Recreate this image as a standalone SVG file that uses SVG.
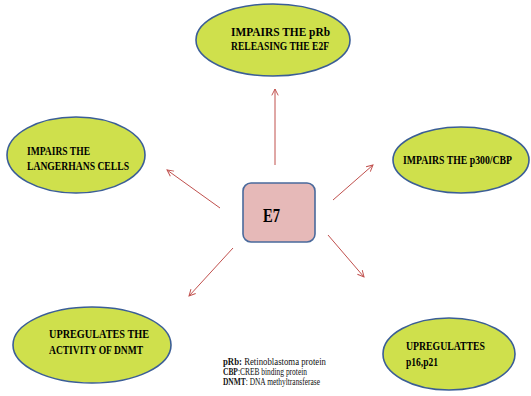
<svg xmlns="http://www.w3.org/2000/svg" width="531" height="396" viewBox="0 0 531 396">
<defs>
<style>
.ell{fill:#cfe04c;stroke:#3b5e96;stroke-width:1.6}
.lbl{font-family:"Liberation Serif","Times New Roman",serif;font-weight:700;font-size:12.5px;fill:#000}
.leg{font-family:"Liberation Serif","Times New Roman",serif;font-size:10px;fill:#111}
.arr{stroke:#c0504d;stroke-width:1;fill:none;marker-end:url(#ah)}
</style>
<marker id="ah" viewBox="0 0 10 10" refX="9" refY="5" markerWidth="8" markerHeight="8" orient="auto" markerUnits="userSpaceOnUse">
<path d="M1,1 L9,5 L1,9" fill="none" stroke="#c0504d" stroke-width="1.2"/>
</marker>
</defs>
<rect width="531" height="396" fill="#fff"/>
<g id="connectors">
<line class="arr" x1="275" y1="165" x2="275" y2="89"/>
<line class="arr" x1="220" y1="208" x2="167" y2="170"/>
<line class="arr" x1="333" y1="200" x2="373" y2="165"/>
<line class="arr" x1="233" y1="248" x2="189" y2="296"/>
<line class="arr" x1="328" y1="235" x2="364" y2="277"/>
</g>
<g id="e7">
<rect x="243" y="183" width="72" height="59" rx="8" fill="#e6b9b8" stroke="#4a6a9c" stroke-width="1.6"/>
<text x="263" y="222" font-family="Liberation Serif, serif" font-weight="700" font-size="19" fill="#000" textLength="17" lengthAdjust="spacingAndGlyphs">E7</text>
</g>
<g id="node-prb">
<ellipse class="ell" cx="273" cy="40" rx="77" ry="36"/>
<text class="lbl" x="231" y="36" textLength="99" lengthAdjust="spacingAndGlyphs">IMPAIRS THE pRb</text>
<text class="lbl" x="231" y="50" textLength="98" lengthAdjust="spacingAndGlyphs">RELEASING THE E2F</text>
</g>
<g id="node-langerhans">
<ellipse class="ell" cx="76" cy="155" rx="69" ry="38"/>
<text class="lbl" x="27" y="155" textLength="63" lengthAdjust="spacingAndGlyphs">IMPAIRS THE</text>
<text class="lbl" x="27" y="170" textLength="102" lengthAdjust="spacingAndGlyphs">LANGERHANS CELLS</text>
</g>
<g id="node-p300">
<ellipse class="ell" cx="461" cy="160" rx="68" ry="33"/>
<text class="lbl" x="403" y="164" textLength="109" lengthAdjust="spacingAndGlyphs">IMPAIRS  THE p300/CBP</text>
</g>
<g id="node-dnmt">
<ellipse class="ell" cx="92" cy="345" rx="79" ry="38"/>
<text class="lbl" x="49" y="338" textLength="100" lengthAdjust="spacingAndGlyphs">UPREGULATES  THE</text>
<text class="lbl" x="49" y="354" textLength="94" lengthAdjust="spacingAndGlyphs">ACTIVITY OF DNMT</text>
</g>
<g id="node-p16">
<ellipse class="ell" cx="449" cy="354" rx="66" ry="36"/>
<text class="lbl" x="406" y="350" textLength="79" lengthAdjust="spacingAndGlyphs">UPREGULATTES</text>
<text class="lbl" x="406" y="366" textLength="32" lengthAdjust="spacingAndGlyphs">p16,p21</text>
</g>
<g id="legend">
<text class="leg" x="223" y="365" textLength="103" lengthAdjust="spacingAndGlyphs"><tspan font-weight="bold">pRb:</tspan> Retinoblastoma protein</text>
<text class="leg" x="223" y="375" textLength="84" lengthAdjust="spacingAndGlyphs"><tspan font-weight="bold">CBP</tspan>:CREB binding protein</text>
<text class="leg" x="223" y="385" textLength="97" lengthAdjust="spacingAndGlyphs"><tspan font-weight="bold">DNMT</tspan>: DNA methyltransferase</text>
</g>
</svg>
